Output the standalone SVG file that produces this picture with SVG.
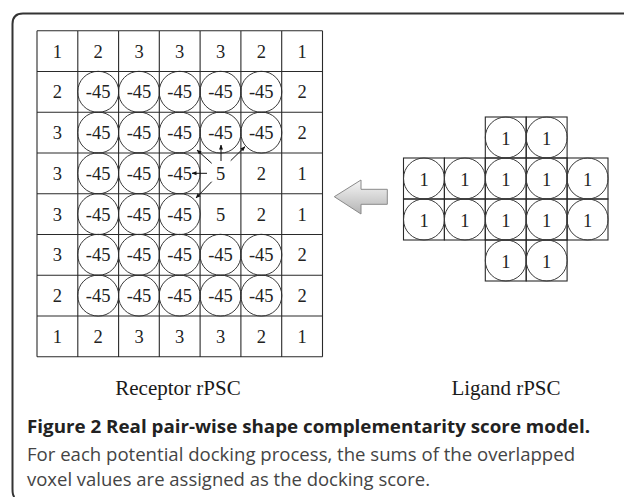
<svg xmlns="http://www.w3.org/2000/svg" width="624" height="497" viewBox="0 0 624 497">
<defs>
<linearGradient id="ag" x1="0" y1="0" x2="0" y2="1">
<stop offset="0" stop-color="#f6f6f6"/>
<stop offset="1" stop-color="#b4b4b4"/>
</linearGradient>
<marker id="ah" viewBox="0 0 10 10" refX="9" refY="5" markerWidth="5" markerHeight="5" orient="auto" markerUnits="userSpaceOnUse">
<path d="M0,1 L10,5 L0,9 Z" fill="#111"/>
</marker>
</defs>
<style>
.g{stroke:#2a2a2a;stroke-width:1.1;fill:none}
.c{stroke:#3a3a3a;stroke-width:1;fill:none}
.n{font-family:"Liberation Serif",serif;font-size:18.5px;fill:#222;text-anchor:middle}
.lbl{font-family:"Liberation Serif",serif;font-size:21px;fill:#1a1a1a;text-anchor:middle}
.cap{font-family:"Open Sans",sans-serif;font-size:18.5px;fill:#444}
.capb{font-family:"Open Sans",sans-serif;font-size:18.5px;font-weight:bold;fill:#222}
.con{stroke:#111;stroke-width:1;fill:none}
</style>
<rect width="624" height="497" fill="#fff"/>
<path d="M624,13.5 H23 Q12.5,13.5 12.5,24 V489 Q12.5,495.5 14.5,497" fill="none" stroke="#333" stroke-width="2"/>

<g id="receptor">
<g class="c">
<circle cx="98.2" cy="91.8" r="20.5"/><circle cx="139" cy="91.8" r="20.5"/><circle cx="179.7" cy="91.8" r="20.5"/><circle cx="220.5" cy="91.8" r="20.5"/><circle cx="261.3" cy="91.8" r="20.5"/>
<circle cx="98.2" cy="132.6" r="20.5"/><circle cx="139" cy="132.6" r="20.5"/><circle cx="179.7" cy="132.6" r="20.5"/><circle cx="220.5" cy="132.6" r="20.5"/><circle cx="261.3" cy="132.6" r="20.5"/>
<circle cx="98.2" cy="173.3" r="20.5"/><circle cx="139" cy="173.3" r="20.5"/><circle cx="179.7" cy="173.3" r="20.5"/>
<circle cx="98.2" cy="214.1" r="20.5"/><circle cx="139" cy="214.1" r="20.5"/><circle cx="179.7" cy="214.1" r="20.5"/>
<circle cx="98.2" cy="254.8" r="20.5"/><circle cx="139" cy="254.8" r="20.5"/><circle cx="179.7" cy="254.8" r="20.5"/><circle cx="220.5" cy="254.8" r="20.5"/><circle cx="261.3" cy="254.8" r="20.5"/>
<circle cx="98.2" cy="295.6" r="20.5"/><circle cx="139" cy="295.6" r="20.5"/><circle cx="179.7" cy="295.6" r="20.5"/><circle cx="220.5" cy="295.6" r="20.5"/><circle cx="261.3" cy="295.6" r="20.5"/>
</g>
<path class="g" d="M37,30.7V356.7M77.8,30.7V356.7M118.6,30.7V356.7M159.3,30.7V356.7M200.1,30.7V356.7M240.9,30.7V356.7M281.7,30.7V356.7M322.5,30.7V356.7M37,30.7H322.5M37,71.5H322.5M37,112.2H322.5M37,153H322.5M37,193.7H322.5M37,234.5H322.5M37,275.2H322.5M37,316H322.5M37,356.7H322.5"/>
<g class="n">
<text x="57.4" y="57.6">1</text><text x="98.2" y="57.6">2</text><text x="139" y="57.6">3</text><text x="179.7" y="57.6">3</text><text x="220.5" y="57.6">3</text><text x="261.3" y="57.6">2</text><text x="302.1" y="57.6">1</text>
<text x="57.4" y="98.3">2</text><text x="98.2" y="98.3">-45</text><text x="139" y="98.3">-45</text><text x="179.7" y="98.3">-45</text><text x="220.5" y="98.3">-45</text><text x="261.3" y="98.3">-45</text><text x="302.1" y="98.3">2</text>
<text x="57.4" y="139.1">3</text><text x="98.2" y="139.1">-45</text><text x="139" y="139.1">-45</text><text x="179.7" y="139.1">-45</text><text x="220.5" y="139.1">-45</text><text x="261.3" y="139.1">-45</text><text x="302.1" y="139.1">2</text>
<text x="57.4" y="179.8">3</text><text x="98.2" y="179.8">-45</text><text x="139" y="179.8">-45</text><text x="179.7" y="179.8">-45</text><text x="220.5" y="179.8">5</text><text x="261.3" y="179.8">2</text><text x="302.1" y="179.8">1</text>
<text x="57.4" y="220.6">3</text><text x="98.2" y="220.6">-45</text><text x="139" y="220.6">-45</text><text x="179.7" y="220.6">-45</text><text x="220.5" y="220.6">5</text><text x="261.3" y="220.6">2</text><text x="302.1" y="220.6">1</text>
<text x="57.4" y="261.3">3</text><text x="98.2" y="261.3">-45</text><text x="139" y="261.3">-45</text><text x="179.7" y="261.3">-45</text><text x="220.5" y="261.3">-45</text><text x="261.3" y="261.3">-45</text><text x="302.1" y="261.3">2</text>
<text x="57.4" y="302.1">2</text><text x="98.2" y="302.1">-45</text><text x="139" y="302.1">-45</text><text x="179.7" y="302.1">-45</text><text x="220.5" y="302.1">-45</text><text x="261.3" y="302.1">-45</text><text x="302.1" y="302.1">2</text>
<text x="57.4" y="342.8">1</text><text x="98.2" y="342.8">2</text><text x="139" y="342.8">3</text><text x="179.7" y="342.8">3</text><text x="220.5" y="342.8">3</text><text x="261.3" y="342.8">2</text><text x="302.1" y="342.8">1</text>
</g>
</g>

<g id="connectors">
<line class="con" x1="221" y1="161" x2="221" y2="145" marker-end="url(#ah)"/>
<line class="con" x1="207" y1="173.3" x2="192" y2="173.3" marker-end="url(#ah)"/>
<line class="con" x1="211.7" y1="163.3" x2="197" y2="150" marker-end="url(#ah)"/>
<line class="con" x1="230.7" y1="160.7" x2="245" y2="146.7" marker-end="url(#ah)"/>
<line class="con" x1="211.7" y1="181.7" x2="196" y2="198" marker-end="url(#ah)"/>
</g>

<g id="arrow">
<path d="M334.3,196.7 L361,180 L361,189.3 L387.3,189.3 L387.3,204.3 L361,204.3 L361,214 Z" fill="url(#ag)" stroke="#8a8a8a" stroke-width="1"/>
</g>

<g id="ligand">
<g class="g">
<rect x="485.3" y="117" width="40.9" height="41"/><rect x="526.2" y="117" width="40.9" height="41"/>
<rect x="403.5" y="158" width="40.9" height="41"/><rect x="444.4" y="158" width="40.9" height="41"/><rect x="485.3" y="158" width="40.9" height="41"/><rect x="526.2" y="158" width="40.9" height="41"/><rect x="567.1" y="158" width="40.9" height="41"/>
<rect x="403.5" y="199" width="40.9" height="41"/><rect x="444.4" y="199" width="40.9" height="41"/><rect x="485.3" y="199" width="40.9" height="41"/><rect x="526.2" y="199" width="40.9" height="41"/><rect x="567.1" y="199" width="40.9" height="41"/>
<rect x="485.3" y="240" width="40.9" height="41"/><rect x="526.2" y="240" width="40.9" height="41"/>
</g>
<g class="c">
<circle cx="505.8" cy="137.5" r="20.5"/><circle cx="546.7" cy="137.5" r="20.5"/>
<circle cx="424" cy="178.5" r="20.5"/><circle cx="464.9" cy="178.5" r="20.5"/><circle cx="505.8" cy="178.5" r="20.5"/><circle cx="546.7" cy="178.5" r="20.5"/><circle cx="587.6" cy="178.5" r="20.5"/>
<circle cx="424" cy="219.5" r="20.5"/><circle cx="464.9" cy="219.5" r="20.5"/><circle cx="505.8" cy="219.5" r="20.5"/><circle cx="546.7" cy="219.5" r="20.5"/><circle cx="587.6" cy="219.5" r="20.5"/>
<circle cx="505.8" cy="260.5" r="20.5"/><circle cx="546.7" cy="260.5" r="20.5"/>
</g>
<g class="n">
<text x="505.8" y="144.5">1</text><text x="546.7" y="144.5">1</text>
<text x="424" y="185.5">1</text><text x="464.9" y="185.5">1</text><text x="505.8" y="185.5">1</text><text x="546.7" y="185.5">1</text><text x="587.6" y="185.5">1</text>
<text x="424" y="226.5">1</text><text x="464.9" y="226.5">1</text><text x="505.8" y="226.5">1</text><text x="546.7" y="226.5">1</text><text x="587.6" y="226.5">1</text>
<text x="505.8" y="267.5">1</text><text x="546.7" y="267.5">1</text>
</g>
</g>

<g id="labels">
<text class="lbl" x="178" y="395">Receptor rPSC</text>
<text class="lbl" x="506" y="395">Ligand rPSC</text>
</g>

<g id="caption">
<text class="capb" x="27" y="433" textLength="563" lengthAdjust="spacingAndGlyphs">Figure 2 Real pair-wise shape complementarity score model.</text>
<text class="cap" x="27" y="461" textLength="548" lengthAdjust="spacingAndGlyphs">For each potential docking process, the sums of the overlapped</text>
<text class="cap" x="27" y="486" textLength="403" lengthAdjust="spacingAndGlyphs">voxel values are assigned as the docking score.</text>
</g>
</svg>
